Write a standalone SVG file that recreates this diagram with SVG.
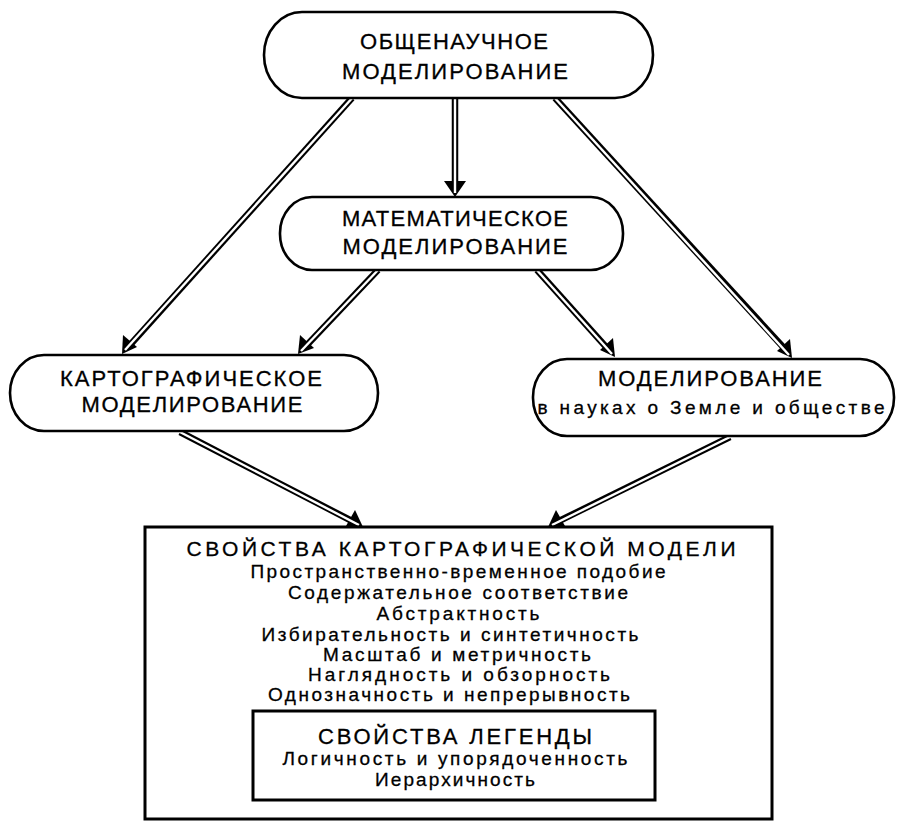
<svg xmlns="http://www.w3.org/2000/svg" width="903" height="823" viewBox="0 0 903 823">
<style>
  .node { fill: #fff; stroke: #000; stroke-width: 2.6; }
  .box { fill: #fff; stroke: #000; stroke-width: 3; }
  text { font-family: "Liberation Sans", Arial, sans-serif; fill: #000; text-anchor: middle; stroke: #000; stroke-width: 0.3; }
  .t { font-size: 22px; }
  .h { font-size: 21px; }
  .s { font-size: 19px; }
  .b { font-size: 19px; }
  .outer { stroke: #000; stroke-width: 6.5; fill: none; }
  .inner { stroke: #fff; stroke-width: 2.4; fill: none; }
  .head { fill: #000; }
</style>
<rect width="903" height="823" fill="#fff"/>

<g id="connectors">
  <g id="c1">
    <line class="outer" x1="455" y1="98" x2="455" y2="184"/>
    <polygon class="head" points="444,181 466,181 455,197"/>
    <line class="inner" x1="455" y1="96" x2="455" y2="193"/>
  </g>
  <g id="c2">
    <line class="outer" x1="352" y1="98" x2="130" y2="345"/>
    <polygon class="head" points="122,354 123,335 137,347"/>
    <line class="inner" x1="354" y1="96" x2="125" y2="350"/>
  </g>
  <g id="c3">
    <line class="outer" x1="378" y1="270" x2="306" y2="346"/>
    <polygon class="head" points="298,354 300,335 314,348"/>
    <line class="inner" x1="380" y1="268" x2="301" y2="351"/>
  </g>
  <g id="c4">
    <line class="outer" x1="537" y1="270" x2="607" y2="348"/>
    <polygon class="head" points="615,357 600,350 613,338"/>
    <line class="inner" x1="535" y1="268" x2="612" y2="354"/>
  </g>
  <g id="c5">
    <line class="outer" x1="555" y1="98" x2="784" y2="348"/>
    <polygon class="head" points="792,358 777,351 790,339"/>
    <line class="inner" x1="553" y1="96" x2="789" y2="355"/>
  </g>
  <g id="c6">
    <line class="outer" x1="180" y1="432" x2="352" y2="521"/>
    <polygon class="head" points="363,527 346,526 355,510"/>
    <line class="inner" x1="178" y1="431" x2="359" y2="525"/>
  </g>
  <g id="c7">
    <line class="outer" x1="730" y1="437" x2="559" y2="521"/>
    <polygon class="head" points="548,527 556,510 565,526"/>
    <line class="inner" x1="732" y1="436" x2="552" y2="525"/>
  </g>
</g>

<g id="n-general">
  <rect class="node" x="264" y="12" width="389" height="86" rx="38" ry="43"/>
  <text class="t" x="454" y="49" textLength="188" lengthAdjust="spacing">ОБЩЕНАУЧНОЕ</text>
  <text class="t" x="455" y="79" textLength="226" lengthAdjust="spacing">МОДЕЛИРОВАНИЕ</text>
</g>

<g id="n-math">
  <rect class="node" x="280" y="197" width="343" height="73" rx="32" ry="36"/>
  <text class="t" x="455" y="226" textLength="226" lengthAdjust="spacing">МАТЕМАТИЧЕСКОЕ</text>
  <text class="t" x="455" y="254" textLength="225" lengthAdjust="spacing">МОДЕЛИРОВАНИЕ</text>
</g>

<g id="n-cart">
  <rect class="node" x="10" y="355" width="368" height="76" rx="34" ry="38"/>
  <text class="t" x="191" y="386" textLength="262" lengthAdjust="spacing">КАРТОГРАФИЧЕСКОЕ</text>
  <text class="t" x="192" y="412" textLength="221" lengthAdjust="spacing">МОДЕЛИРОВАНИЕ</text>
</g>

<g id="n-earth">
  <rect class="node" x="533" y="359" width="361" height="77" rx="34" ry="38"/>
  <text class="t" x="710" y="386" textLength="224" lengthAdjust="spacing">МОДЕЛИРОВАНИЕ</text>
  <text class="s" x="711" y="414" textLength="347" lengthAdjust="spacing">в науках о Земле и обществе</text>
</g>

<g id="n-properties">
  <rect class="box" x="145" y="527" width="627" height="292"/>
  <text class="h" x="461" y="556" textLength="549" lengthAdjust="spacing">СВОЙСТВА КАРТОГРАФИЧЕСКОЙ МОДЕЛИ</text>
  <text class="b" x="458" y="578" textLength="415" lengthAdjust="spacing">Пространственно-временное подобие</text>
  <text class="b" x="458" y="599" textLength="340" lengthAdjust="spacing">Содержательное соответствие</text>
  <text class="b" x="458" y="620" textLength="163" lengthAdjust="spacing">Абстрактность</text>
  <text class="b" x="450" y="641" textLength="377" lengthAdjust="spacing">Избирательность и синтетичность</text>
  <text class="b" x="457" y="661" textLength="268" lengthAdjust="spacing">Масштаб и метричность</text>
  <text class="b" x="459" y="681" textLength="302" lengthAdjust="spacing">Наглядность и обзорность</text>
  <text class="b" x="449" y="701" textLength="362" lengthAdjust="spacing">Однозначность и непрерывность</text>
</g>

<g id="n-legend">
  <rect class="box" x="253" y="711" width="402" height="89"/>
  <text class="t" x="455" y="744" textLength="274" lengthAdjust="spacing">СВОЙСТВА ЛЕГЕНДЫ</text>
  <text class="b" x="455" y="765" textLength="345" lengthAdjust="spacing">Логичность и упорядоченность</text>
  <text class="b" x="455" y="786" textLength="160" lengthAdjust="spacing">Иерархичность</text>
</g>
</svg>
